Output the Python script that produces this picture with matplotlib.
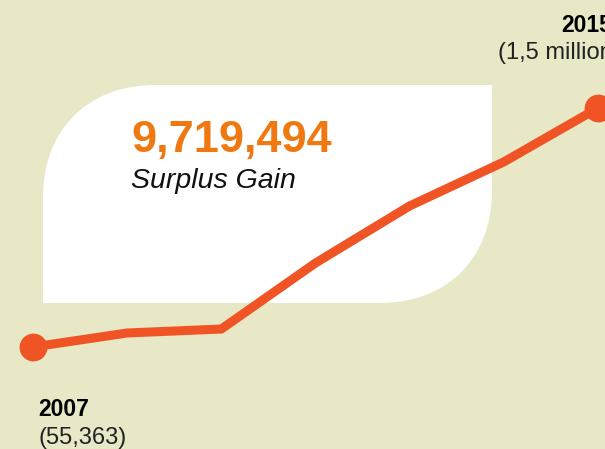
import matplotlib.pyplot as plt
from matplotlib.path import Path
from matplotlib.patches import PathPatch

plt.rcParams['font.family'] = ['Liberation Sans', 'DejaVu Sans']

# surplus per step, 2007 -> 2015
steps = [0, 1, 2, 3, 4, 5, 6]
surplus = [55363, 140000, 164000, 563000, 908000, 1174000, 1500000]
total_gain = "9,719,494"
first_year, first_label = "2007", "(55,363)"
last_year, last_label = "2015", "(1,5 million)"

bg = '#e8e7c6'
line_col = '#f05424'
num_col = '#f07810'

W, H = 605, 449
fig = plt.figure(figsize=(W / 100, H / 100), dpi=100, facecolor=bg)
ax = fig.add_axes([0, 0, 1, 1])
ax.set_facecolor(bg)
ax.axis('off')

# scale chosen so the series spans the picture like the original
ax.set_xlim(-0.3504, 6.0743)
ax.set_ylim(-561125, 2152631)


def px(x, y):
    return (x / W, 1 - y / H)


# white card with rounded top-left and bottom-right corners
x0, x1, y0, y1 = 43, 492, 85, 303
r = 112
k = 0.6 * r
verts = [px(x0, y1), px(x0, y0 + r),
         px(x0, y0 + r - k), px(x0 + r - k, y0), px(x0 + r, y0),
         px(x1, y0), px(x1, y1 - r),
         px(x1, y1 - r + k), px(x1 - r + k, y1), px(x1 - r, y1),
         px(x0, y1)]
codes = [Path.MOVETO, Path.LINETO,
         Path.CURVE4, Path.CURVE4, Path.CURVE4,
         Path.LINETO, Path.LINETO,
         Path.CURVE4, Path.CURVE4, Path.CURVE4,
         Path.CLOSEPOLY]
card = PathPatch(Path(verts, codes), facecolor='white', edgecolor='none',
                 transform=ax.transAxes, zorder=1)
ax.add_patch(card)

ax.plot(steps, surplus, color=line_col, lw=6.5, solid_joinstyle='miter',
        solid_capstyle='butt', zorder=3, clip_on=False)
ax.plot([steps[0], steps[-1]], [surplus[0], surplus[-1]], 'o', color=line_col,
        ms=19, zorder=4, clip_on=False)

ax.text(*px(131, 152), total_gain, transform=ax.transAxes, fontsize=32.5,
        fontweight='bold', color=num_col, va='baseline', zorder=5)
ax.text(*px(131, 188), "Surplus Gain", transform=ax.transAxes, fontsize=20.5,
        style='italic', color='#111111', va='baseline', zorder=5)

ax.text(*px(38, 416), first_year, transform=ax.transAxes, fontsize=16.5,
        fontweight='bold', color='black', va='baseline')
ax.text(*px(38, 444), first_label, transform=ax.transAxes, fontsize=17,
        color='#222222', va='baseline')
ax.text(*px(561, 32), last_year, transform=ax.transAxes, fontsize=16.5,
        fontweight='bold', color='black', va='baseline')
ax.text(*px(498, 59), last_label, transform=ax.transAxes, fontsize=17,
        color='#222222', va='baseline')

fig.savefig('out.png', dpi=100, facecolor=bg)
